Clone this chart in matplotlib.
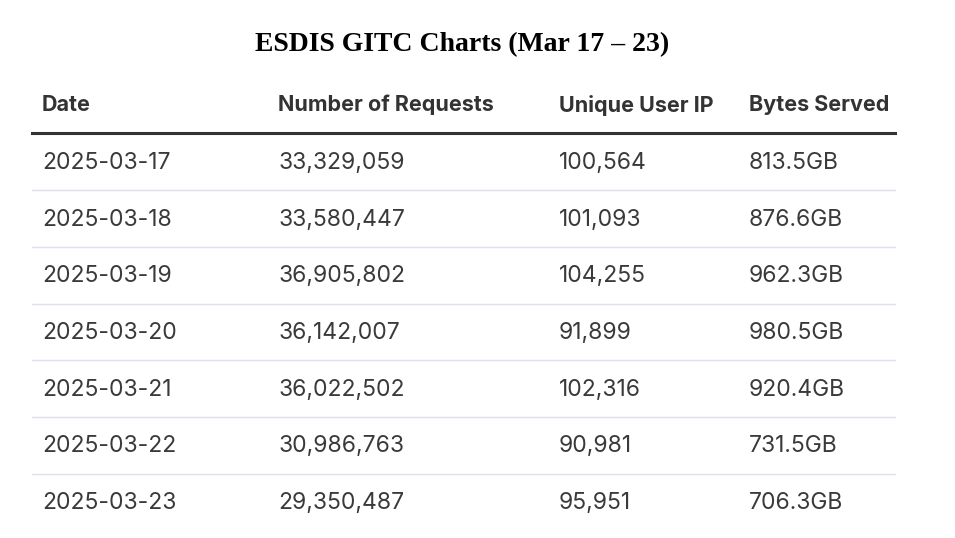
import matplotlib
matplotlib.use("Agg")
import matplotlib.pyplot as plt

title = "ESDIS GITC Charts (Mar 17 – 23)"
columns = ["Date", "Number of Requests", "Unique User IP", "Bytes Served"]
dates = ["2025-03-17", "2025-03-18", "2025-03-19", "2025-03-20", "2025-03-21", "2025-03-22", "2025-03-23"]
requests = [33329059, 33580447, 36905802, 36142007, 36022502, 30986763, 29350487]
unique_ips = [100564, 101093, 104255, 91899, 102316, 90981, 95951]
bytes_gb = [813.5, 876.6, 962.3, 980.5, 920.4, 731.5, 706.3]

W, H = 955, 538
fig = plt.figure(figsize=(W/100, H/100), dpi=100)
ax = fig.add_axes([0, 0, 1, 1])
ax.set_xlim(0, W); ax.set_ylim(H, 0); ax.axis("off")

ax.text(462, 45, title, ha="center", va="center", fontsize=20, fontweight="bold", family="Liberation Serif")
col_x = [42, 278, 559, 749]
for x, c in zip(col_x, columns):
    ax.text(x, 105, c, ha="left", va="center", fontsize=15.5, fontweight="bold", family="Inter", color="#333333")
ax.plot([32, 895], [133, 133], color="#333333", lw=2.2)
row_h = 56.7
for i in range(len(dates)):
    y = 163 + i*row_h
    vals = [dates[i], f"{requests[i]:,}", f"{unique_ips[i]:,}", f"{bytes_gb[i]:.1f}GB"]
    for x, v in zip(col_x, vals):
        ax.text(x, y, v, ha="left", va="center", fontsize=16.5, family="Inter", color="#3a3a3a")
    if i < len(dates) - 1:
        ax.plot([32, 895], [y - 1 + row_h/2, y - 1 + row_h/2], color="#dde0ea", lw=1)
fig.savefig("out.png", dpi=100)
